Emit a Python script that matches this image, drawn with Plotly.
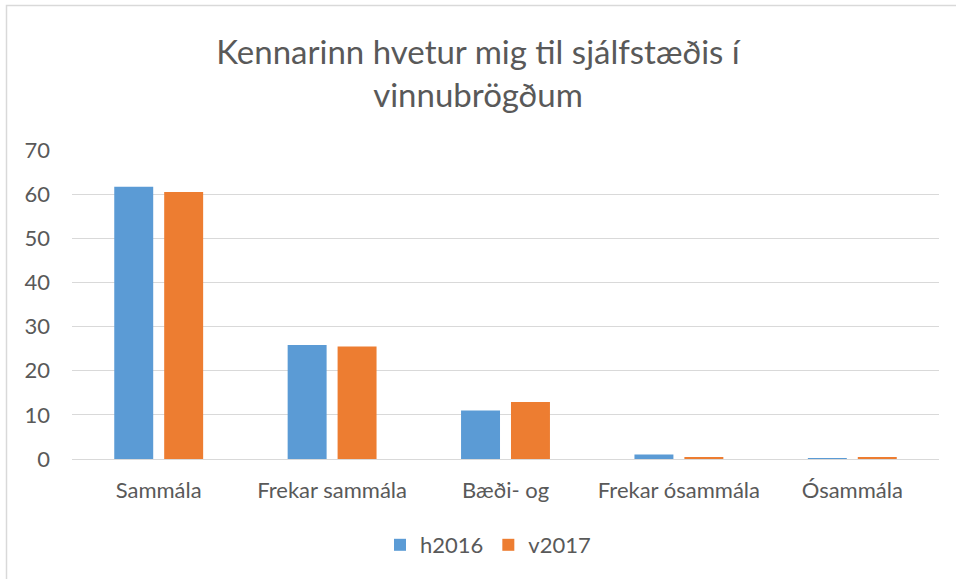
import plotly.graph_objects as go

categories = ["Sammála", "Frekar sammála", "Bæði- og", "Frekar ósammála", "Ósammála"]
h2016 = [61.7, 25.8, 11.0, 1.0, 0.2]
v2017 = [60.5, 25.5, 12.9, 0.4, 0.4]
yticks = [0, 10, 20, 30, 40, 50, 60, 70]

W, H = 956, 579
L, R, T, B = 72, 17, 150, 120
pw, ph = W - L - R, H - T - B

def px(x):
    return (x - L) / pw

def py(y):
    return (H - B - y) / ph

fig = go.Figure()
fig.add_trace(go.Bar(name="h2016", x=categories, y=h2016, marker_color="#5B9BD5", marker_line_width=0))
fig.add_trace(go.Bar(name="v2017", x=categories, y=v2017, marker_color="#ED7D31", marker_line_width=0))

font = "Lato, 'Open Sans', sans-serif"
fig.update_layout(
    width=W, height=H,
    margin=dict(l=L, r=R, t=T, b=B),
    paper_bgcolor="white", plot_bgcolor="white",
    barmode="group", bargap=0.424, bargroupgap=0.22,
    font=dict(family=font, color="#595959", size=22),
    title=dict(text="Kennarinn hvetur mig til sjálfstæðis í<br>vinnubrögðum",
               x=0.5, xanchor="center", y=1 - 64 / H, yanchor="middle",
               font=dict(size=33, color="#595959", family=font)),
    legend=dict(orientation="h", x=px(488), xanchor="center", y=py(545), yanchor="middle",
                font=dict(size=22, color="#595959"), itemwidth=30, traceorder="normal"),
    showlegend=True,
)
fig.update_yaxes(range=[0, 70], tickvals=yticks, showgrid=True, gridcolor="#D9D9D9", gridwidth=1,
                 zeroline=True, zerolinecolor="#D9D9D9", zerolinewidth=1, showline=False,
                 ticklabelstandoff=21, tickfont=dict(size=22, color="#595959"), fixedrange=True)
fig.update_xaxes(showgrid=False, showline=False, ticks="", ticklabelstandoff=16,
                 tickfont=dict(size=22, color="#595959"))

fig.add_shape(type="rect", xref="paper", yref="paper",
              x0=px(6.5), x1=px(990), y0=py(600), y1=py(5.5),
              line=dict(color="#D9D9D9", width=1.5), fillcolor="rgba(0,0,0,0)", layer="below")

fig.write_html("out.html", config={"displayModeBar": False},
               post_script="document.body.style.margin='0';")
